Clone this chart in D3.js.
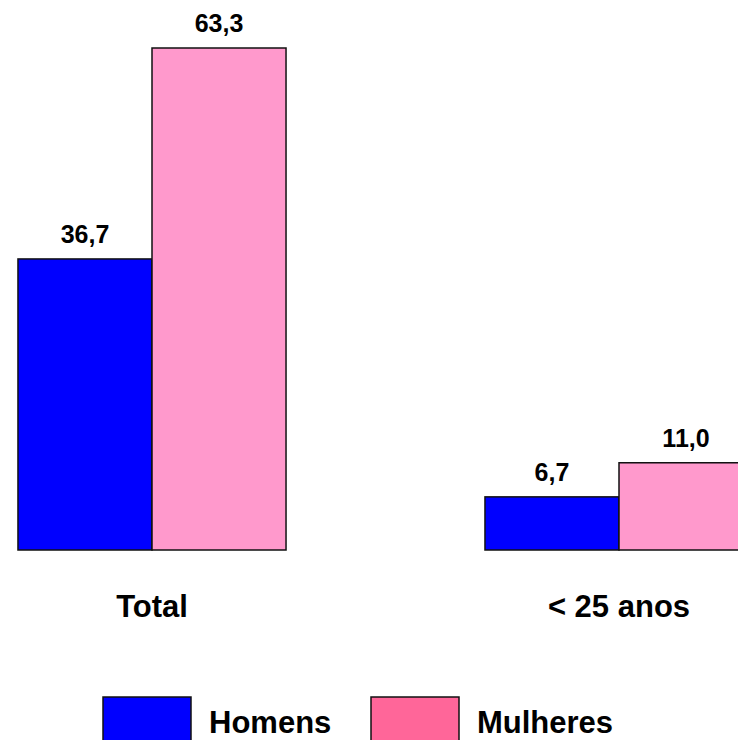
<!DOCTYPE html>
<html>
<head>
<meta charset="utf-8">
<script src="https://cdn.jsdelivr.net/npm/d3@7"></script>
<style>
  body { margin: 0; background: #fff; }
  svg { display: block; font-family: "Liberation Sans", Arial, sans-serif; }
</style>
</head>
<body>
<svg></svg>
<script>
const width = 738;
const height = 740;

// data
const categories = ["Total", "< 25 anos"];
const series = ["Homens", "Mulheres"];
const homens = [36.7, 6.7];
const mulheres = [63.3, 11.0];

const barColors = { Homens: "#0000ff", Mulheres: "#ff99cc" };
const legendColors = { Homens: "#0000ff", Mulheres: "#ff6699" };

const fmt = d3.formatLocale({ decimal: ",", thousands: ".", grouping: [3], currency: ["", ""] }).format(".1f");

const svg = d3.select("svg")
    .attr("width", width)
    .attr("height", height)
    .attr("viewBox", [0, 0, width, height]);

// x: categories, chart is cut at the right edge
const x = d3.scaleBand()
    .domain(categories)
    .range([-81.5, 852.5])
    .paddingInner(0.426)
    .paddingOuter(0.213);

const xs = d3.scaleBand()
    .domain(series)
    .range([0, x.bandwidth()]);

const y = d3.scaleLinear()
    .domain([0, 63.3])
    .range([550, 48]);

const rows = categories.map((c, i) => ({
  cat: c,
  vals: [
    { key: "Homens", value: homens[i] },
    { key: "Mulheres", value: mulheres[i] }
  ]
}));

const groups = svg.append("g")
  .selectAll("g")
  .data(rows)
  .join("g")
    .attr("transform", d => `translate(${x(d.cat)},0)`);

groups.selectAll("rect")
  .data(d => d.vals)
  .join("rect")
    .attr("x", d => xs(d.key))
    .attr("y", d => y(d.value))
    .attr("width", xs.bandwidth())
    .attr("height", d => y(0) - y(d.value))
    .attr("fill", d => barColors[d.key])
    .attr("stroke", "#111")
    .attr("stroke-width", 1.5);

groups.selectAll("text.val")
  .data(d => d.vals)
  .join("text")
    .attr("class", "val")
    .attr("x", d => xs(d.key) + xs.bandwidth() / 2)
    .attr("y", d => y(d.value) - 16)
    .attr("text-anchor", "middle")
    .style("font-size", "25px")
    .style("font-weight", "bold")
    .text(d => fmt(d.value));

// category labels
svg.append("g")
  .selectAll("text")
  .data(categories)
  .join("text")
    .attr("x", d => x(d) + x.bandwidth() / 2)
    .attr("y", 617)
    .attr("text-anchor", "middle")
    .style("font-size", "31px")
    .style("font-weight", "bold")
    .text(d => d);

// legend
const legendX = [103, 371];
const legend = svg.append("g")
  .selectAll("g")
  .data(series)
  .join("g")
    .attr("transform", (d, i) => `translate(${legendX[i]},697)`);

legend.append("rect")
    .attr("width", 88)
    .attr("height", 44)
    .attr("fill", d => legendColors[d])
    .attr("stroke", "#111")
    .attr("stroke-width", 1.5);

legend.append("text")
    .attr("x", 106)
    .attr("y", 36)
    .style("font-size", "31px")
    .style("font-weight", "bold")
    .text(d => d);
</script>
</body>
</html>
